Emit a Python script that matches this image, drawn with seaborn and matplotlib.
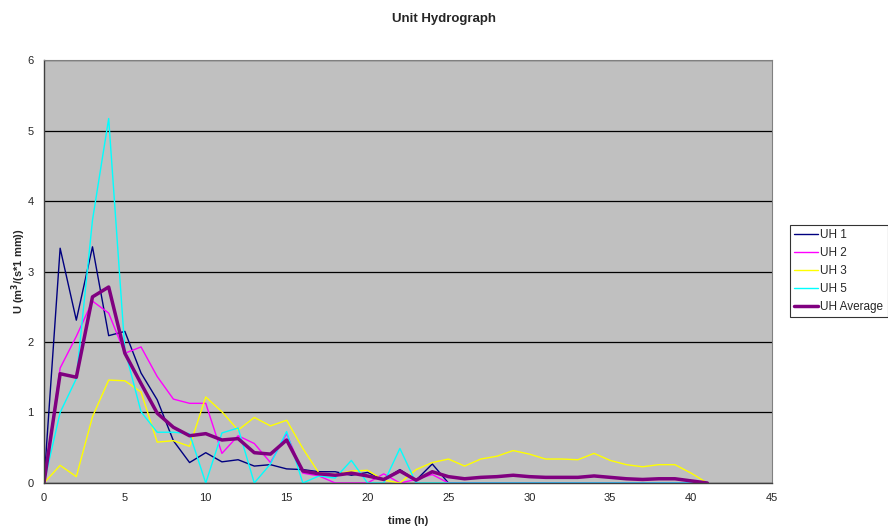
import matplotlib
matplotlib.use("Agg")
import matplotlib.pyplot as plt
import seaborn as sns
import pandas as pd

time_h = list(range(0, 42))

uh1 = [0, 3.33, 2.31, 3.35, 2.09, 2.15, 1.56, 1.18, 0.60, 0.29, 0.43, 0.30, 0.33, 0.24, 0.26, 0.20,
       0.19, 0.16, 0.16, 0.11, 0.15, 0.05, 0.19, 0.04, 0.27, 0.0,
       0, 0, 0, 0, 0, 0, 0, 0, 0, 0, 0, 0, 0, 0, 0, 0]
uh2 = [0, 1.63, 2.08, 2.58, 2.41, 1.84, 1.93, 1.51, 1.19, 1.13, 1.13, 0.42, 0.67, 0.56, 0.29, 0.70,
       0.14, 0.10, 0.0, 0.0, 0.0, 0.13, 0.0, 0.05, 0.12, 0.0,
       0, 0, 0, 0, 0, 0, 0, 0, 0, 0, 0, 0, 0, 0, 0, 0]
uh3 = [0, 0.25, 0.09, 0.94, 1.46, 1.45, 1.29, 0.58, 0.60, 0.52, 1.22, 1.01, 0.75, 0.93, 0.81, 0.89,
       0.49, 0.14, 0.12, 0.17, 0.18, 0.04, 0.0, 0.19, 0.29, 0.34, 0.24, 0.34, 0.38, 0.46, 0.41,
       0.34, 0.34, 0.33, 0.42, 0.32, 0.26, 0.23, 0.26, 0.26, 0.14, 0.0]
uh5 = [0, 1.00, 1.48, 3.73, 5.17, 1.89, 1.01, 0.72, 0.72, 0.70, 0.0, 0.71, 0.78, 0.0, 0.27, 0.73,
       0.0, 0.10, 0.07, 0.32, 0.0, 0.0, 0.49, 0.0, 0.0, 0.0,
       0, 0, 0, 0, 0, 0, 0, 0, 0, 0, 0, 0, 0, 0, 0, 0]
uh_avg = [0, 1.55, 1.50, 2.64, 2.78, 1.84, 1.41, 0.99, 0.79, 0.67, 0.70, 0.61, 0.63, 0.43, 0.41, 0.61,
          0.17, 0.13, 0.11, 0.14, 0.10, 0.05, 0.17, 0.04, 0.16, 0.09, 0.06, 0.08, 0.09, 0.11, 0.09,
          0.08, 0.08, 0.08, 0.10, 0.08, 0.06, 0.05, 0.06, 0.06, 0.03, 0.0]

series_names = ["UH 1", "UH 2", "UH 3", "UH 5", "UH Average"]
series_values = [uh1, uh2, uh3, uh5, uh_avg]
colors = ["#000080", "#FF00FF", "#FFFF00", "#00FFFF", "#800080"]
widths = [1.0, 1.0, 1.0, 1.0, 2.5]

sns.set_style("white")
plt.rcParams["font.family"] = ["Liberation Sans", "DejaVu Sans"]

fig = plt.figure(figsize=(8.88, 5.31), dpi=100)
ax = fig.add_axes([0.0495, 0.0904, 0.8199, 0.7966])
ax.set_facecolor("#C0C0C0")

for name, vals, c, w in zip(series_names, series_values, colors, widths):
    df = pd.DataFrame({"t": time_h, "u": vals})
    sns.lineplot(data=df, x="t", y="u", ax=ax, color=c, linewidth=w, label=name)

ax.set_xlim(0, 45)
ax.set_ylim(0, 6)
ax.set_xticks(range(0, 46, 5))
ax.set_yticks(range(0, 7))
ax.yaxis.grid(True, color="black", linewidth=0.9)
ax.set_axisbelow(True)
ax.tick_params(axis="both", direction="out", length=4, width=0.8, labelsize=8, color="black")
for s in ["top", "right"]:
    ax.spines[s].set_color("#808080")
    ax.spines[s].set_linewidth(0.8)
for s in ["left", "bottom"]:
    ax.spines[s].set_color("#404040")
    ax.spines[s].set_linewidth(1.0)

ax.set_xlabel("time (h)", fontsize=8, fontweight="bold", labelpad=9)
ax.set_ylabel("U (m$^\\mathbf{3}$/(s*1 mm))", fontsize=8, fontweight="bold")
ax.yaxis.set_label_coords(-0.022, 0.5)
fig.suptitle("Unit Hydrograph", fontsize=9.5, fontweight="bold", y=0.975)

ax.get_legend().remove()
handles, labels = ax.get_legend_handles_labels()
leg = fig.legend(handles, labels, loc="upper left", bbox_to_anchor=(0.890, 0.577),
                 fontsize=8.5, frameon=True, fancybox=False, handlelength=2.0,
                 borderpad=0.35, labelspacing=0.52, handletextpad=0.2, borderaxespad=0)
leg.get_frame().set_edgecolor("black")
leg.get_frame().set_linewidth(0.8)

fig.savefig("out.png", dpi=100)
